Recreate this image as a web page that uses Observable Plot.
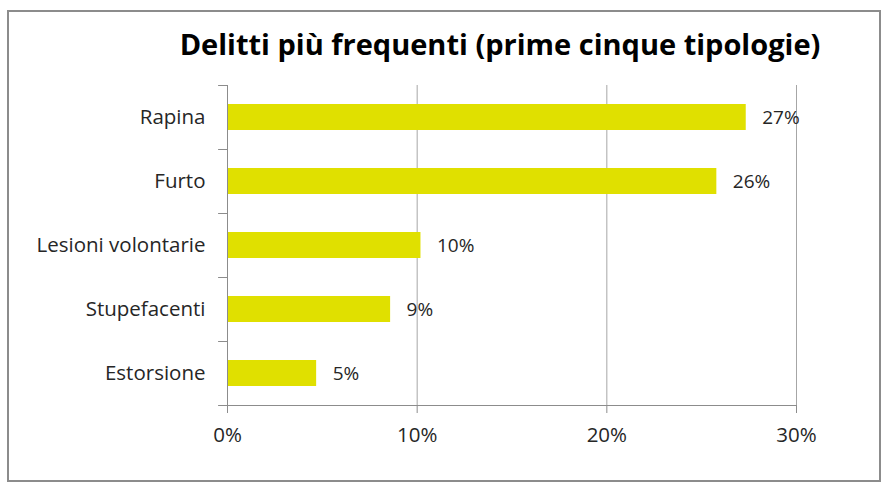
<!DOCTYPE html>
<html>
<head>
<meta charset="utf-8">
<script src="https://cdn.jsdelivr.net/npm/d3@7"></script>
<script src="https://cdn.jsdelivr.net/npm/@observablehq/plot@0.6"></script>
<style>
  html, body { margin: 0; padding: 0; background: #fff; }
  #wrap { position: relative; width: 881px; height: 483px; overflow: hidden; font-family: "Open Sans", Lato, sans-serif; }
  #border { position: absolute; left: 7px; top: 10px; width: 870px; height: 468px; border: 2px solid #8c8c8c; box-sizing: content-box; }
  #title { position: absolute; left: 100px; width: 800px; top: 24px; text-align: center; font-weight: bold; font-size: 29px; color: #000; white-space: nowrap; line-height: 40px; }
  #chart { position: absolute; left: 0; top: 0; }
</style>
</head>
<body>
<div id="wrap">
  <div id="border"></div>
  <div id="chart"></div>
  <div id="title">Delitti più frequenti (prime cinque tipologie)</div>
</div>
<script>
const categories = ["Rapina", "Furto", "Lesioni volontarie", "Stupefacenti", "Estorsione"];
const values = [27.35, 25.8, 10.2, 8.6, 4.7];
const valueLabels = ["27%", "26%", "10%", "9%", "5%"];
const xTicks = [0, 10, 20, 30];

const data = categories.map((c, i) => ({category: c, value: values[i], label: valueLabels[i]}));
const textColor = "#262626";
const gridColor = "#a6a6a6";
const axisColor = "#8c8c8c";
const halfStep = 32;
const tickLen = 0.47;

const chart = Plot.plot({
  width: 881,
  height: 483,
  marginLeft: 227,
  marginRight: 85,
  marginTop: 85,
  marginBottom: 78,
  style: {fontFamily: "'Open Sans', Lato, sans-serif", background: "transparent", color: textColor},
  x: {domain: [0, 30], ticks: xTicks},
  y: {domain: categories, paddingInner: 0.6, paddingOuter: 0.3},
  marks: [
    Plot.ruleX(xTicks.slice(1), {stroke: gridColor, strokeWidth: 1}),
    Plot.barX(data, {x: "value", y: "category", fill: "#e0e000"}),
    Plot.ruleX([0], {stroke: axisColor, strokeWidth: 1}),
    Plot.ruleY(categories, {y: d => d, x1: -tickLen, x2: 0, dy: -halfStep, stroke: axisColor}),
    Plot.ruleY(categories.slice(-1), {y: d => d, x1: -tickLen, x2: 30, dy: halfStep, stroke: axisColor}),
    Plot.text(data, {x: "value", y: "category", text: "label", textAnchor: "start", dx: 16, fontSize: 19, fill: textColor}),
    Plot.axisX({ticks: xTicks, tickSize: 8, tickPadding: 14, tickFormat: d => d + "%", fontSize: 20.5, stroke: axisColor, fill: textColor, label: null}),
    Plot.axisY({tickSize: 0, tickPadding: 22, fontSize: 20.5, fill: textColor, label: null})
  ]
});
document.getElementById("chart").appendChild(chart);
</script>
</body>
</html>
